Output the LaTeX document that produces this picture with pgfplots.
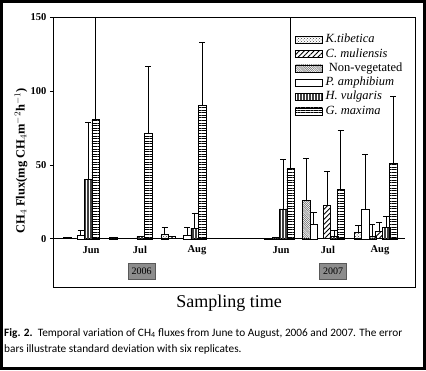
\documentclass[border=0pt]{standalone}
\usepackage{fontspec}
\setmainfont{Liberation Serif}
\newfontfamily\capfont{Carlito}
\usepackage{pgfplots}
\pgfplotsset{compat=1.18}
\usetikzlibrary{patterns,patterns.meta}
\pgfplotsset{
  barleg/.style={legend image code/.code={\draw[##1,line width=0.5pt] (0pt,-3.5pt) rectangle (27pt,3.5pt);}},
  mybar/.style={ybar, bar width=7.5, bar shift=0pt, draw=black, line width=0.5pt, barleg},
}
\begin{document}
\begin{tikzpicture}[x=1pt,y=1pt]
\fill[white] (0,0) rectangle (426,370);
\draw[black,line width=3pt] (1.5,1.5) rectangle (424.5,368.5);
\begin{axis}[
  at={(53pt,83pt)}, anchor=south west, scale only axis, width=362pt, height=270pt,
  xmin=53, xmax=415, ymin=-32.6, ymax=150,
  axis line style={line width=0.8pt},
  xtick=\empty, ytick={0,50,100,150}, ytick pos=left, tick align=outside,
  major tick length=3pt, tick style={black,line width=0.6pt},
  yticklabel style={font=\fontsize{10.5}{12}\selectfont\bfseries},
  /pgf/number format/assume math mode=true,
  legend style={at={(axis cs:295,139.5)}, anchor=north west, draw=none, fill=none,
    font=\fontsize{12.5}{14}\selectfont, inner sep=0pt,
    nodes={inner sep=0.5pt, text height=9.5pt, text depth=3.8pt},
    /tikz/every odd column/.append style={column sep=2.5pt}},
  legend cell align=left,
]
\addplot[black, line width=0.8pt, forget plot] coordinates {(53,0) (405,0)};
% K. tibetica
\addplot[mybar, pattern=crosshatch dots, pattern color=black!75,
  error bars/.cd, y dir=plus, y explicit, error bar style={line width=0.6pt,black},
  error mark options={rotate=90,mark size=3pt,line width=0.8pt}]
  coordinates {(113,1) (164.5,3) +- (0,4.7) (268,0.5) (358,4.3) +- (0,4.7)};
% C. muliensis
\addplot[mybar, line width=0.9pt, pattern={Lines[angle=45,distance=3.5pt,line width=0.9pt]},
  error bars/.cd, y dir=plus, y explicit, error bar style={line width=0.6pt,black},
  error mark options={rotate=90,mark size=3pt,line width=0.8pt}]
  coordinates {(67.5,1) (172,1.5) (327,22.5) +- (0,23) (379,4.9) +- (0,6)};
% Non-vegetated
\addplot[mybar, pattern={Lines[angle=-45,distance=1.5pt,line width=0.5pt]}, pattern color=black!60,
  error bars/.cd, y dir=plus, y explicit, error bar style={line width=0.6pt,black},
  error mark options={rotate=90,mark size=3pt,line width=0.8pt}]
  coordinates {(275.5,0.8) (306,25.9) +- (0,28.2) (372,1.5) +- (0,8.5)};
% P. amphibium
\addplot[mybar, fill=white,
  error bars/.cd, y dir=plus, y explicit, error bar style={line width=0.6pt,black},
  error mark options={rotate=90,mark size=3pt,line width=0.8pt}]
  coordinates {(80.5,2.7) +- (0,2.7) (187,2.7) +- (0,5) (313.5,9.9) +- (0,7.9) (365,20.1) +- (0,36.7)};
% H. vulgaris
\addplot[mybar, pattern={Lines[angle=90,distance=1.5pt,line width=0.5pt]}, pattern color=black!75,
  error bars/.cd, y dir=plus, y explicit, error bar style={line width=0.6pt,black},
  error mark options={rotate=90,mark size=3pt,line width=0.8pt}]
  coordinates {(88,40) +- (0,39) (140.5,1.5) (194.5,7.3) +- (0,10.2) (283,20.3) +- (0,33.2) (334,1.5) +- (0,4.5) (386,7.7) +- (0,7.4)};
% G. maxima
\addplot[mybar, pattern={Lines[angle=0,distance=2.6pt,line width=0.6pt]},
  error bars/.cd, y dir=plus, y explicit, error bar style={line width=0.6pt,black},
  error mark options={rotate=90,mark size=3pt,line width=0.8pt}]
  coordinates {(95.5,81) +- (0,100) (148,71.2) +- (0,45.4) (202,90) +- (0,43) (290.5,47.4) +- (0,110) (340.5,33.2) +- (0,40) (393,51.2) +- (0,45.1)};
\legend{\textit{K.tibetica},\textit{C. muliensis},\ Non-vegetated,\textit{P. amphibium},\textit{H. vulgaris},\textit{G. maxima}}
% month labels
\foreach \xx/\lab in {91/Jun,140/Jul,197/Aug,281/Jun,328/Jul,380/Aug}{
  \edef\tmp{\noexpand\node[font=\noexpand\fontsize{10.5}{12}\noexpand\selectfont\noexpand\bfseries] at (axis cs:\xx,-7.6) {\lab};}\tmp
}
\node[fill=black!45, draw=black!65, line width=0.6pt, minimum width=27pt, minimum height=16pt, inner sep=1pt,
  font=\fontsize{10}{12}\selectfont] at (axis cs:141.5,-22) {2006};
\node[fill=black!45, draw=black!65, line width=0.6pt, minimum width=27pt, minimum height=16pt, inner sep=1pt,
  font=\fontsize{10}{12}\selectfont] at (axis cs:333,-22) {2007};
\end{axis}
\node[rotate=90, font=\fontsize{12.5}{14}\selectfont\bfseries] at (21,209) {CH$_4$ Flux(mg CH$_4$m$^{-2}$h$^{-1}$)};
\node[font=\fontsize{18}{20}\selectfont] at (229,67) {Sampling time};
\node[anchor=base west, font=\capfont\fontsize{11.3}{13}\selectfont, inner sep=0pt] at (4,34)
  {\textbf{Fig. 2.}\ \ Temporal variation of CH\textsubscript{4} fluxes from June to August, 2006 and 2007. The error};
\node[anchor=base west, font=\capfont\fontsize{11.3}{13}\selectfont, inner sep=0pt] at (4,18)
  {bars illustrate standard deviation with six replicates.};
\end{tikzpicture}
\end{document}
